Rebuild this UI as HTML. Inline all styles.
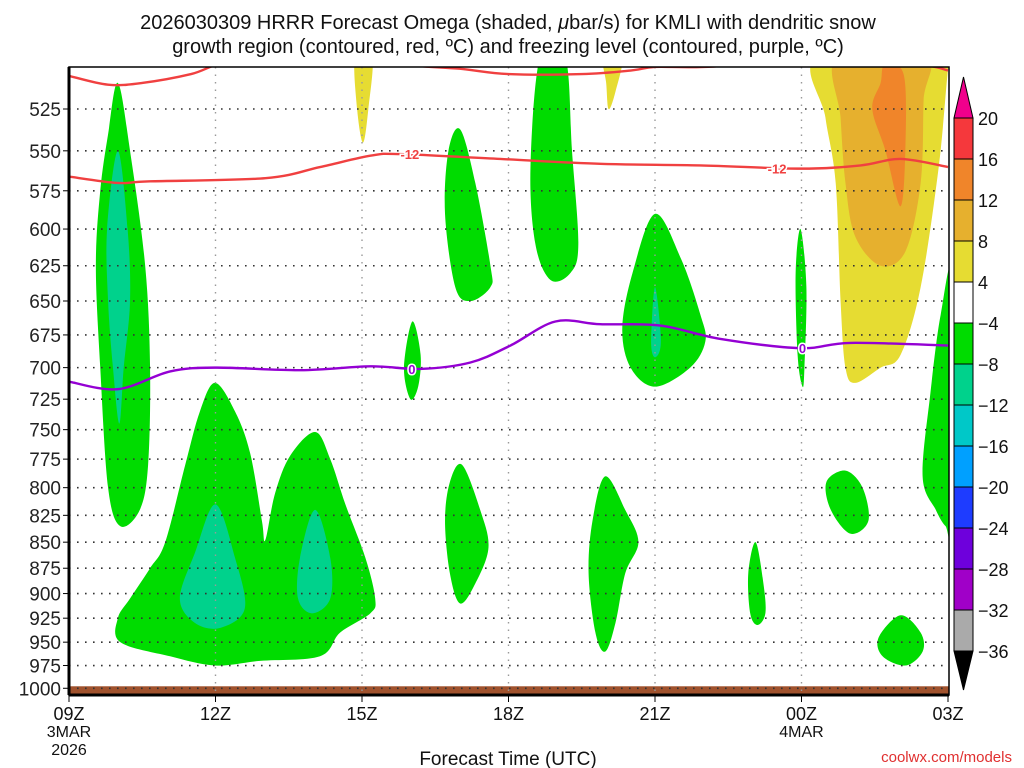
<!DOCTYPE html>
<html><head><meta charset="utf-8"><style>
body{margin:0;background:#fff;}
svg{display:block;font-family:"Liberation Sans",sans-serif;}
</style></head><body>
<svg id="c" width="1024" height="768" viewBox="0 0 1024 768">
<text x="508" y="29" text-anchor="middle" font-size="20" fill="#111">2026030309 HRRR Forecast Omega (shaded, <tspan font-style="italic">μ</tspan>bar/s) for KMLI with dendritic snow</text>
<text x="508" y="53" text-anchor="middle" font-size="20" fill="#111">growth region (contoured, red, ºC) and freezing level (contoured, purple, ºC)</text>
<defs><clipPath id="pc"><rect x="69" y="67" width="880" height="628"/></clipPath></defs>
<g id="fills" clip-path="url(#pc)"></g>
<g id="grid"></g>
<g id="lines" clip-path="url(#pc)"></g>
<g id="axes"></g>
<g id="cbar"></g>
<text x="508" y="765" text-anchor="middle" font-size="19" fill="#111">Forecast Time (UTC)</text>
<text x="1012" y="762" text-anchor="end" font-size="15" fill="#e03030">coolwx.com/models</text>
</svg>
<script>
const pressureTicks=[525,550,575,600,625,650,675,700,725,750,775,800,825,850,875,900,925,950,975,1000];
const timeTicks=["09Z","12Z","15Z","18Z","21Z","00Z","03Z"];
const timeHours=[0,3,6,9,12,15,18];
const cbarLabels=[20,16,12,8,4,-4,-8,-12,-16,-20,-24,-28,-32,-36];
const cbarColors=["#f5383c","#f0852a","#e6b02e","#e6dc32","#ffffff","#00dc00","#00d28c","#00c8c8","#00a0ff","#1e3cff","#6e00dc","#a000c8","#aaaaaa"];
const COL={g:"#00dc00",t:"#00d28c",y:"#e6dc32",o:"#e6b02e",r:"#f0852a"};
// blobs: [color, [[hour, pressure],...]]
const blobs=[
["y",[[15.35,495],[18.1,495],[18.01,500],[17.81,560],[17.44,640],[17.03,690],[16.62,700],[16.1,712],[15.9,700],[15.8,650],[15.7,570],[15.49,530]]],
["o",[[15.74,495],[17.54,495],[17.5,520],[17.44,570],[17.13,615],[16.62,625],[16.1,605],[15.9,570],[15.8,530]]],
["r",[[16.7,500],[17.09,505],[17.13,545],[17.03,585],[16.72,550],[16.45,525],[16.62,510]]],
["y",[[5.86,495],[6.21,495],[6.13,525],[6.02,545],[5.9,525]]],
["y",[[10.94,495],[11.33,495],[11.19,515],[11.05,525],[11.0,510]]],
["g",[[1.0,510],[1.25,550],[1.56,625],[1.66,700],[1.62,780],[1.45,820],[1.05,835],[0.8,800],[0.64,700],[0.55,625],[0.64,575],[0.8,540]]],
["t",[[1.0,550],[1.2,600],[1.25,650],[1.12,700],[1.03,745],[0.9,700],[0.8,650],[0.78,600]]],
["g",[[2.99,712],[3.4,735],[3.71,770],[3.95,830],[4.02,848],[4.22,805],[4.53,772],[5.04,752],[5.35,775],[5.66,815],[6.07,865],[6.27,905],[6.17,920],[5.55,940],[5.14,965],[3.91,970],[2.99,975],[2.07,965],[1.05,950],[1.0,925],[1.25,905],[1.66,875],[1.97,850],[2.38,780],[2.68,735]]],
["t",[[3.0,815],[3.4,865],[3.6,915],[3.1,935],[2.58,930],[2.27,905],[2.58,860]]],
["t",[[5.04,820],[5.35,865],[5.35,905],[4.98,920],[4.69,905],[4.73,865]]],
["g",[[7.03,665],[7.2,690],[7.15,715],[6.99,725],[6.86,700]]],
["g",[[8.01,537],[8.32,570],[8.63,625],[8.63,640],[8.22,650],[7.91,640],[7.7,590],[7.77,550]]],
["g",[[8.05,780],[8.42,820],[8.59,855],[8.32,890],[8.01,910],[7.8,880],[7.7,830],[7.8,795]]],
["g",[[9.65,495],[10.16,495],[10.3,550],[10.43,610],[10.27,630],[9.86,635],[9.55,610],[9.45,560]]],
["g",[[10.98,790],[11.39,820],[11.66,850],[11.39,880],[11.19,930],[10.98,960],[10.78,940],[10.64,880],[10.72,830]]],
["g",[[12.0,590],[12.53,620],[12.93,660],[13.03,680],[12.72,700],[12.0,715],[11.5,700],[11.33,670],[11.54,630]]],
["t",[[12.0,640],[12.12,680],[12.0,692],[11.92,680]]],
["g",[[14.06,850],[14.22,890],[14.26,920],[14.1,932],[13.95,920],[13.91,880]]],
["g",[[14.98,600],[15.1,640],[15.06,700],[15.02,715],[14.92,690],[14.88,630]]],
["g",[[15.9,785],[16.25,800],[16.37,830],[16.0,842],[15.6,820],[15.51,795]]],
["g",[[17.03,922],[17.44,940],[17.48,960],[17.13,975],[16.66,965],[16.58,945]]],
["g",[[18.1,632],[18.1,835],[17.95,835],[17.75,820],[17.48,790],[17.64,720],[17.85,660]]]
];
const redTop=[[0,506],[0.8,511],[1.5,510],[2.5,505],[3.5,497],[6,495],[7,500],[8,502],[9,505],[10.5,505],[11.5,503],[12,501],[13,501],[15,498],[16,497],[17.5,500],[18,503]];
const red12=[[0,566],[1,570],[1.66,569],[4.02,567],[5.14,560],[6.17,553],[6.78,552],[8.83,555],[10.88,558],[12.93,559],[14.98,561],[16.21,559],[17.03,555],[18,560]];
const purple0=[[0,711],[1,717],[2.07,703],[3,700],[4.74,702],[6.17,699],[7.19,701],[8.22,696],[9.04,683],[9.96,665],[10.88,667],[12.11,668],[13.34,678],[14.98,685],[16,681],[18,683]];
const NS="http://www.w3.org/2000/svg";
const X=h=>69+h*879/18;
const Y=p=>109+899*(Math.log(p)-Math.log(525));
function mk(t,a,parent){const e=document.createElementNS(NS,t);for(const k in a)e.setAttribute(k,a[k]);parent.appendChild(e);return e;}
function smooth(pts,closed){
  const P=pts.map(q=>[X(q[0]),Y(q[1])]);const n=P.length;let d=`M${P[0][0]},${P[0][1]}`;
  const g=i=>closed?P[(i+n)%n]:P[Math.max(0,Math.min(n-1,i))];
  const m=closed?n:n-1;
  for(let i=0;i<m;i++){const p0=g(i-1),p1=g(i),p2=g(i+1),p3=g(i+2);
    d+=`C${p1[0]+(p2[0]-p0[0])/6},${p1[1]+(p2[1]-p0[1])/6} ${p2[0]-(p3[0]-p1[0])/6},${p2[1]-(p3[1]-p1[1])/6} ${p2[0]},${p2[1]}`;}
  return d+(closed?"Z":"");
}
const F=document.getElementById('fills');
blobs.forEach(b=>{const e=mk('path',{d:smooth(b[1],true),fill:COL[b[0]]},F);

});
const gr=mk('rect',{x:69,y:Y(1000)-2,width:880,height:695-Y(1000)+2,fill:"#a0522d"},F);


const G=document.getElementById('grid');
pressureTicks.forEach(p=>{const e=mk('line',{x1:69,x2:949,y1:Y(p),y2:Y(p),stroke:"#333","stroke-width":1.6,"stroke-dasharray":"1.6 6.4"},G);

});
timeHours.forEach(h=>{if(h>0&&h<18){const e=mk('line',{x1:X(h),x2:X(h),y1:67,y2:695,stroke:"#999","stroke-width":1.4,"stroke-dasharray":"1.5 6"},G);

}});
const L=document.getElementById('lines');
[[redTop,"#f04040"],[red12,"#f04040"],[purple0,"#9400d3"]].forEach(s=>{const e=mk('path',{d:smooth(s[0],false),fill:"none",stroke:s[1],"stroke-width":2.4},L);

});
[[6.98,552,"-12","#f04040"],[14.5,561,"-12","#f04040"],[7.02,701,"0","#9400d3"],[15.02,685,"0","#9400d3"]].forEach(l=>{
const e=mk('text',{x:X(l[0]),y:Y(l[1])+5,"text-anchor":"middle","font-size":13,"font-weight":"bold",fill:l[3],stroke:"#fff","stroke-width":3,"paint-order":"stroke"},L);e.textContent=l[2];

});
const A=document.getElementById('axes');
mk('rect',{x:69,y:67,width:880,height:628,fill:"none",stroke:"#000","stroke-width":1.5},A);
mk('line',{x1:69,x2:69,y1:67,y2:695,stroke:"#000","stroke-width":3},A);
mk('line',{x1:69,x2:949,y1:695,y2:695,stroke:"#000","stroke-width":3},A);
pressureTicks.forEach(p=>{mk('line',{x1:63,x2:69,y1:Y(p),y2:Y(p),stroke:"#000"},A);
const t=mk('text',{x:61,y:Y(p)+7,"text-anchor":"end","font-size":19,fill:"#222"},A);t.textContent=p;

});
timeTicks.forEach((s,i)=>{const x=X(timeHours[i]);mk('line',{x1:x,x2:x,y1:695,y2:702,stroke:"#000"},A);
const t=mk('text',{x:x,y:720,"text-anchor":"middle","font-size":18,fill:"#111"},A);t.textContent=s;

});
[[0,"3MAR",737],[0,"2026",755],[15,"4MAR",737]].forEach(d=>{const t=mk('text',{x:X(d[0]),y:d[2],"text-anchor":"middle","font-size":16,fill:"#111"},A);t.textContent=d[1];

});
const C=document.getElementById('cbar');
const cy=v=>{const i=cbarLabels.indexOf(v);return 118+i*41;};
mk('polygon',{points:"954,118 973,118 963.5,77",fill:"#f0008c",stroke:"#000"},C);
cbarColors.forEach((c,i)=>{const e=mk('rect',{x:954,y:118+i*41,width:19,height:41,fill:c,stroke:"#000","stroke-width":1},C);

});
mk('polygon',{points:"954,651 973,651 963.5,690",fill:"#000",stroke:"#000"},C);
cbarLabels.forEach((v,i)=>{const y=118+i*41;const t=mk('text',{x:978,y:y+7,"font-size":18,fill:"#111"},C);t.textContent=v<0?"\u2212"+(-v):String(v);

});
</script>
</body></html>
